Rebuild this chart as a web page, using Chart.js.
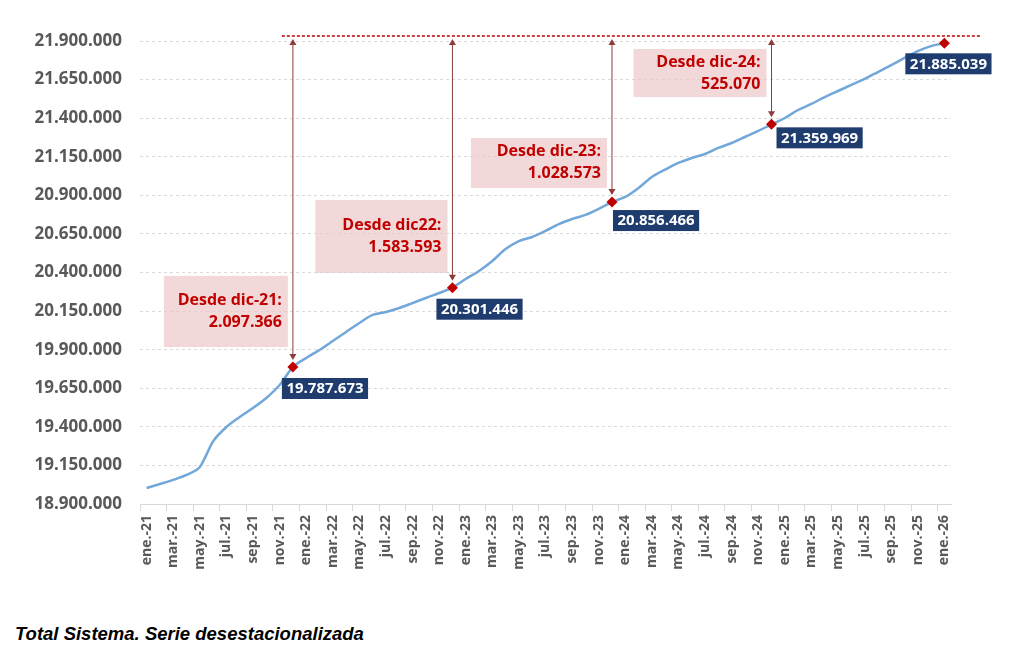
<!DOCTYPE html>
<html>
<head>
<meta charset="utf-8">
<script src="https://cdn.jsdelivr.net/npm/chart.js@4"></script>
<style>
  body { margin: 0; background: #fff; width: 1026px; height: 664px; position: relative; overflow: hidden; }
  #wrap { position: absolute; left: 0; top: 0; width: 1026px; height: 600px; }
  #caption { position: absolute; left: 15px; top: 624px; font: italic bold 18.5px/20px "Liberation Sans", Arial, sans-serif; color: #000; }
</style>
</head>
<body>
<div id="wrap"><canvas id="chart"></canvas></div>
<div id="caption">Total Sistema. Serie desestacionalizada</div>
<script>
const months = ['ene.', 'feb.', 'mar.', 'abr.', 'may.', 'jun.', 'jul.', 'ago.', 'sep.', 'oct.', 'nov.', 'dic.'];
const years = ['21', '22', '23', '24', '25', '26'];

// afiliados, serie desestacionalizada (ene.-21 .. ene.-26)
const afiliados = [
  19004000, 19030000, 19056000, 19088000, 19140000, 19306000, 19399000, 19464000, 19522000, 19587000, 19671000, 19787673,
  19846000, 19898000, 19956000, 20015000, 20073000, 20125000, 20144000, 20170000, 20202000, 20235000, 20267000, 20301446,
  20358000, 20410000, 20475000, 20552000, 20604000, 20630000, 20669000, 20714000, 20747000, 20773000, 20812000, 20856466,
  20890000, 20948000, 21019000, 21067000, 21110000, 21142000, 21168000, 21207000, 21239000, 21278000, 21317000, 21359969,
  21401000, 21453000, 21492000, 21537000, 21576000, 21615000, 21654000, 21699000, 21744000, 21790000, 21835000, 21867000, 21885039
];

const marcados = ['dic.-21', 'dic.-22', 'dic.-23', 'dic.-24', 'ene.-26'];
const notasDesde = ['dic.-21', 'dic.-22', 'dic.-23', 'dic.-24'];
const notasTexto = ['Desde dic-21:', 'Desde dic22:', 'Desde dic-23:', 'Desde dic-24:'];

const yMin = 18900000, yMax = 21900000, yStep = 250000;

const labels = [];
years.forEach(y => months.forEach(m => labels.push(m + '-' + y)));
labels.length = afiliados.length;

const fmt = n => String(Math.round(n)).replace(/\B(?=(\d{3})+(?!\d))/g, '.');

// estilos de las anotaciones (cajas rosas y etiquetas azules)
const notaCaja = [
  { w: 124, top: 20378000, bottom: 19917000 },
  { w: 132, top: 20870000, bottom: 20397000 },
  { w: 136, top: 21272000, bottom: 20948000 },
  { w: 133, top: 21848000, bottom: 21537000 },
];
const etiquetaOff = [[-11, 11], [-16, 11], [1, 8], [5, 3], [-39, 10]];

const decoracion = {
  id: 'decoracion',
  beforeDatasetsDraw(chart) {
    const { ctx, scales: { x, y }, chartArea } = chart;
    const last = afiliados.length - 1;
    const lineY = y.getPixelForValue(yMax) - 5;
    ctx.save();
    // linea roja discontinua
    ctx.strokeStyle = '#c00000';
    ctx.lineWidth = 1.5;
    ctx.setLineDash([3, 2]);
    ctx.beginPath();
    ctx.moveTo(x.getPixelForValue(labels.indexOf(notasDesde[0])) - 11, lineY);
    ctx.lineTo(chartArea.right + 29, lineY);
    ctx.stroke();
    ctx.setLineDash([]);

    notasDesde.forEach((lab, k) => {
      const i = labels.indexOf(lab);
      const px = x.getPixelForValue(i);
      const py = y.getPixelForValue(afiliados[i]);
      const box = notaCaja[k];
      const top = y.getPixelForValue(box.top);
      const bot = y.getPixelForValue(box.bottom);
      const right = px - 5;
      ctx.fillStyle = 'rgba(236,200,200,0.7)';
      ctx.fillRect(right - box.w, top, box.w, bot - top);
      ctx.fillStyle = '#c00000';
      ctx.font = 'bold 16px "Open Sans"';
      ctx.textAlign = 'right';
      ctx.textBaseline = 'middle';
      const cy = (top + bot) / 2;
      ctx.fillText(notasTexto[k], right - 6, cy - 11);
      ctx.fillText(fmt(afiliados[last] - afiliados[i]), right - 6, cy + 11);

      // flecha doble
      const y1 = lineY + 3, y2 = py - 7;
      ctx.strokeStyle = '#8e3b3b';
      ctx.fillStyle = '#8e3b3b';
      ctx.lineWidth = 1;
      ctx.beginPath();
      ctx.moveTo(px, y1 + 4);
      ctx.lineTo(px, y2 - 4);
      ctx.stroke();
      ctx.beginPath();
      ctx.moveTo(px, y1); ctx.lineTo(px - 3.5, y1 + 6); ctx.lineTo(px + 3.5, y1 + 6); ctx.closePath();
      ctx.fill();
      ctx.beginPath();
      ctx.moveTo(px, y2); ctx.lineTo(px - 3.5, y2 - 6); ctx.lineTo(px + 3.5, y2 - 6); ctx.closePath();
      ctx.fill();
    });
    ctx.restore();
  },
  afterDatasetsDraw(chart) {
    const { ctx, scales: { x, y } } = chart;
    ctx.save();
    ctx.font = 'bold 15px "Open Sans"';
    ctx.textAlign = 'left';
    ctx.textBaseline = 'middle';
    marcados.forEach((lab, k) => {
      const i = labels.indexOf(lab);
      const px = x.getPixelForValue(i);
      const py = y.getPixelForValue(afiliados[i]);
      const txt = fmt(afiliados[i]);
      const w = ctx.measureText(txt).width + 9;
      const bx = px + etiquetaOff[k][0], by = py + etiquetaOff[k][1];
      ctx.fillStyle = '#1f3c6e';
      ctx.fillRect(bx, by, w, 21);
      ctx.fillStyle = '#ffffff';
      ctx.fillText(txt, bx + 4.5, by + 11);
    });
    ctx.restore();
  }
};

new Chart(document.getElementById('chart'), {
  type: 'line',
  data: {
    labels: labels,
    datasets: [{
      data: afiliados,
      borderColor: '#72a7da',
      borderWidth: 2.5,
      tension: 0.3,
      fill: false,
      clip: false,
      pointStyle: 'rectRot',
      pointRadius: ctx => marcados.includes(labels[ctx.dataIndex]) ? 5.5 : 0,
      pointHoverRadius: 0,
      pointBackgroundColor: '#c00000',
      pointBorderColor: '#c00000',
      pointBorderWidth: 0,
    }]
  },
  options: {
    responsive: true,
    maintainAspectRatio: false,
    animation: false,
    layout: { padding: { top: 41, right: 75, left: 0, bottom: 0 } },
    plugins: {
      legend: { display: false },
      tooltip: { enabled: false }
    },
    scales: {
      x: {
        offset: true,
        grid: {
          offset: true,
          drawOnChartArea: false,
          tickLength: 7,
          color: ctx => (ctx.index % 2 === 0 ? '#d9d9d9' : 'rgba(0,0,0,0)')
        },
        border: { color: '#d9d9d9', width: 1 },
        ticks: {
          autoSkip: false,
          maxRotation: 90,
          minRotation: 90,
          padding: 4,
          color: '#595959',
          font: { family: 'Open Sans', size: 14, weight: 'bold' },
          callback(v, i) { return i % 2 === 0 ? this.getLabelForValue(v) : ''; }
        },
        afterFit(s) { s.height = 96; }
      },
      y: {
        min: yMin,
        max: yMax,
        grid: { color: '#d9d9d9', drawTicks: false },
        border: { display: false, dash: [3, 3] },
        ticks: {
          stepSize: yStep,
          padding: 18,
          color: '#595959',
          font: { family: 'Open Sans', size: 17, weight: 'bold' },
          callback: v => fmt(v)
        },
        afterFit(s) { s.width = 140; }
      }
    }
  },
  plugins: [decoracion]
});
</script>
</body>
</html>
